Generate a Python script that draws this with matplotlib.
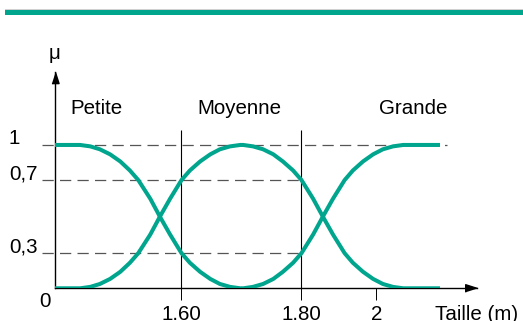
import numpy as np
import matplotlib
matplotlib.use("Agg")
import matplotlib.pyplot as plt
from matplotlib.patches import Rectangle
from matplotlib.lines import Line2D

taille_petite = [1.389, 1.431, 1.448, 1.464, 1.481, 1.498, 1.514, 1.528, 1.548,
                 1.564, 1.581, 1.600, 1.614, 1.631, 1.648, 1.664, 1.681, 1.698]
mu_petite = [1, 1, 0.988, 0.963, 0.920, 0.859, 0.782, 0.70, 0.598,
             0.5, 0.402, 0.30, 0.218, 0.141, 0.080, 0.037, 0.012, 0]

taille_moyenne = [1.389, 1.431, 1.448, 1.464, 1.481, 1.498, 1.514, 1.528, 1.548,
                  1.564, 1.581, 1.600, 1.614, 1.631, 1.648, 1.664, 1.681, 1.698,
                  1.703, 1.719, 1.736, 1.753, 1.769, 1.786, 1.800, 1.831, 1.857,
                  1.884, 1.915, 1.937, 1.964, 1.991, 2.017, 2.044, 2.071, 2.164]
mu_moyenne = [0, 0, 0.012, 0.037, 0.080, 0.141, 0.218, 0.30, 0.402,
              0.5, 0.598, 0.70, 0.782, 0.859, 0.920, 0.963, 0.988, 1,
              1, 0.988, 0.963, 0.920, 0.859, 0.782, 0.70, 0.598, 0.5,
              0.402, 0.30, 0.218, 0.141, 0.080, 0.037, 0.012, 0, 0]

taille_grande = [1.703, 1.719, 1.736, 1.753, 1.769, 1.786, 1.800, 1.831, 1.857,
                 1.884, 1.915, 1.937, 1.964, 1.991, 2.017, 2.044, 2.071, 2.164]
mu_grande = [0, 0.012, 0.037, 0.080, 0.141, 0.218, 0.30, 0.402, 0.5,
             0.598, 0.70, 0.782, 0.859, 0.920, 0.963, 0.988, 1, 1]

categories = ["Petite", "Moyenne", "Grande"]
cat_x = [1.458, 1.696, 2.099]

x_ticks = [1.60, 1.80, 2.00]
x_ticklabels = ["1.60", "1.80", "2"]
niveaux = [1, 0.7, 0.3]
niveaux_labels = ["1", "0,7", "0,3"]
niveaux_fin = [2.188, 1.804, 1.804]

# axes schématiques : graduations non proportionnelles
xk_m = [1.29, 1.60, 1.80, 2.00, 2.40]
xk_d = [-4.5, 181.5, 301.5, 376.5, 526.5]
yk_m = [-1, 0, 0.3, 0.7, 1, 2]
yk_d = [-1, 0, 0.245, 0.755, 1, 2]

teal = "#00a58e"
plt.rcParams['font.family'] = ['Liberation Sans', 'DejaVu Sans']
plt.rcParams['font.size'] = 14.8

fig = plt.figure(figsize=(5.23, 3.21), dpi=100)
ax = fig.add_axes([55 / 523, 32.7 / 321, 422 / 523, 216.3 / 321])
ax.set_xscale('function', functions=(lambda v: np.interp(v, xk_m, xk_d),
                                     lambda v: np.interp(v, xk_d, xk_m)))
ax.set_yscale('function', functions=(lambda v: np.interp(v, yk_m, yk_d),
                                     lambda v: np.interp(v, yk_d, yk_m)))
ax.set_xlim(1.3892, 2.268)
ax.set_ylim(0, 1.509)

for y, x1 in zip(niveaux, niveaux_fin):
    ax.hlines(y, 1.3675, x1, colors='#555555', lw=0.9,
              linestyles=(0, (9, 5)), clip_on=False, zorder=1)
ax.vlines(x_ticks[:2], 0, 1.105, colors='black', lw=0.8, zorder=1)

ax.plot(taille_petite, mu_petite, color=teal, lw=2.9, zorder=3)
ax.plot(taille_moyenne, mu_moyenne, color=teal, lw=2.9, zorder=3)
ax.plot(taille_grande, mu_grande, color=teal, lw=2.9, zorder=3)

for name, x in zip(categories, cat_x):
    ax.text(x, 1.216, name, ha='center', va='baseline')

for y, lab in zip(niveaux, niveaux_labels):
    ax.annotate(lab, xy=(0, y), xycoords=('axes fraction', 'data'),
                xytext=(-46, 1), textcoords='offset pixels',
                ha='left', va='baseline')
ax.annotate("0", xy=(0, 0), xycoords='axes fraction', xytext=(-10.5, -3.7),
            textcoords='offset pixels', ha='center', va='top')
ax.annotate("Taille (m)", xy=(1, 0), xycoords='axes fraction',
            xytext=(-42, -16.7), textcoords='offset pixels', ha='left', va='top')
ax.annotate("μ", xy=(0, 1), xycoords='axes fraction', xytext=(-0.5, 13),
            textcoords='offset pixels', ha='center', va='baseline')

ax.set_xticks(x_ticks, x_ticklabels)
ax.set_yticks([])
ax.tick_params(axis='x', direction='out', length=8.6, width=0.7, pad=3.6)
for side in ['top', 'right']:
    ax.spines[side].set_visible(False)
for side in ['left', 'bottom']:
    ax.spines[side].set_linewidth(1.0)
ax.patch.set_visible(False)

# flèches
arrow_up = [(-0.32, -1), (0.32, -1), (0, 0)]
arrow_right = [(-1, -0.32), (-1, 0.32), (0, 0)]
ax.plot([0], [1], marker=arrow_up, ms=16, color='black',
        transform=ax.transAxes, clip_on=False)
ax.plot([1], [0], marker=arrow_right, ms=17, color='black',
        transform=ax.transAxes, clip_on=False)

# bandeau du haut
fig.add_artist(Rectangle((5 / 523, 306 / 321), 518 / 523, 5 / 321,
                         transform=fig.transFigure, color=teal, lw=0))
fig.add_artist(Line2D([5 / 523, 1], [1 - 9.3 / 321] * 2, color='#c8c8c8',
                      lw=0.6, transform=fig.transFigure))

fig.savefig("out.png", dpi=100)
